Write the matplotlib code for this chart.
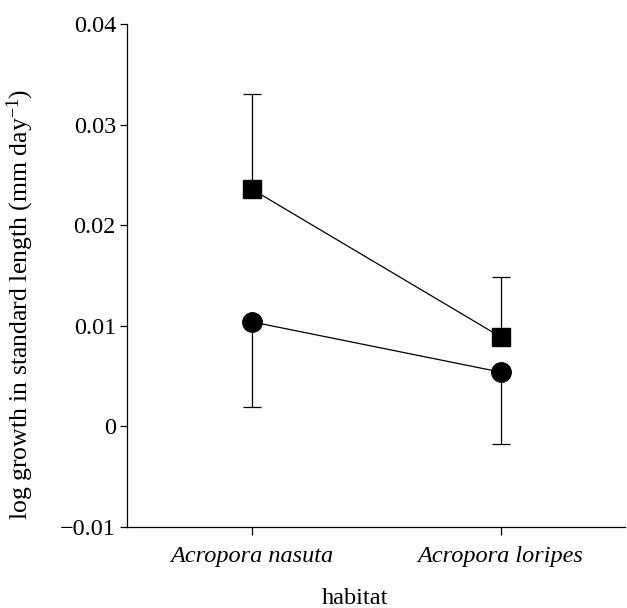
import matplotlib
matplotlib.use('Agg')
import matplotlib.pyplot as plt
import numpy as np

# data
habitats = ['Acropora nasuta', 'Acropora loripes']
square_mean = [0.0236, 0.0089]
square_upper = [0.0330, 0.0149]
circle_mean = [0.0104, 0.0054]
circle_lower = [0.0019, -0.0017]
yticks = [-0.01, 0, 0.01, 0.02, 0.03, 0.04]
ytick_labels = ['\u22120.01', '0', '0.01', '0.02', '0.03', '0.04']

plt.rcParams['font.family'] = ['Liberation Serif', 'DejaVu Serif']
plt.rcParams['mathtext.fontset'] = 'custom'
plt.rcParams['mathtext.rm'] = 'Liberation Serif'
plt.rcParams['mathtext.it'] = 'Liberation Serif:italic'

fig = plt.figure(figsize=(6.27, 6.08), dpi=100)
ax = fig.add_axes([0.2026, 0.1332, 0.7944, 0.8273])

x = np.arange(len(habitats))

# squares: upper error bar only
sq_err = [np.zeros(len(x)), np.array(square_upper) - np.array(square_mean)]
ax.errorbar(x, square_mean, yerr=sq_err, fmt='s-', color='black', ms=13.5,
            lw=0.9, elinewidth=0.9, capsize=6.5, capthick=0.9)

# circles: lower error bar only
ci_err = [np.array(circle_mean) - np.array(circle_lower), np.zeros(len(x))]
ax.errorbar(x, circle_mean, yerr=ci_err, fmt='o-', color='black', ms=14,
            lw=0.9, elinewidth=0.9, capsize=6.5, capthick=0.9)

ax.set_xlim(-0.5, 1.5)
ax.set_ylim(-0.01, 0.04)
ax.set_yticks(yticks)
ax.set_yticklabels(ytick_labels)
ax.set_xticks(x)
ax.set_xticklabels(habitats, fontstyle='italic')

for s in ['top', 'right']:
    ax.spines[s].set_visible(False)
for s in ['left', 'bottom']:
    ax.spines[s].set_linewidth(0.9)

ax.tick_params(axis='y', labelsize=17.5, length=5, width=0.9, pad=3)
ax.tick_params(axis='x', labelsize=17.5, length=6, width=0.9, pad=8)

fig.text(0.032, 0.5, 'log growth in standard length (mm day$^{-1}$)',
         rotation=90, ha='center', va='center', fontsize=18.5)
fig.text(0.566, 0.006, 'habitat', ha='center', va='baseline', fontsize=17.5)

fig.savefig('out.png', dpi=100)
